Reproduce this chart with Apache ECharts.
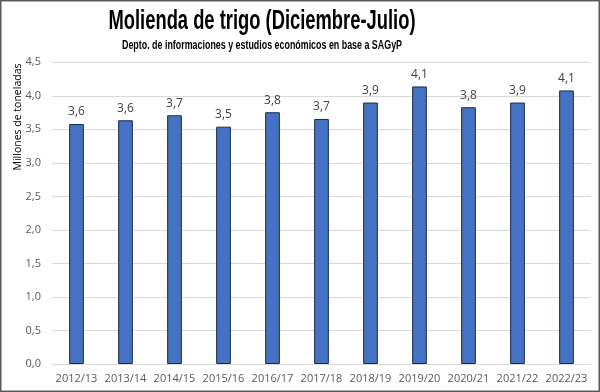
<!DOCTYPE html>
<html><head><meta charset="utf-8">
<script src="https://cdn.jsdelivr.net/npm/echarts@6/dist/echarts.min.js"></script>
<style>html,body{margin:0;padding:0;background:#fff}#c{width:600px;height:392px}</style>
</head><body><div id="c"></div>
<script>
const categories = ['2012/13','2013/14','2014/15','2015/16','2016/17','2017/18','2018/19','2019/20','2020/21','2021/22','2022/23'];
const values = [3.58,3.635,3.71,3.54,3.755,3.655,3.90,4.14,3.83,3.90,4.08];
const titleText = 'Molienda de trigo (Diciembre-Julio)';
const subtitleText = 'Depto. de informaciones y estudios económicos en base a SAGyP';
const yAxisName = 'Millones de toneladas';

const fmt = v => v.toFixed(1).replace('.', ',');
const ctx = document.createElement('canvas').getContext('2d');
function fitScale(text, font, target) {
  ctx.font = font;
  return target / ctx.measureText(text).width;
}
const titleFont = 'bold 27px "Liberation Sans"';
const subFont = 'bold 12.5px "Liberation Sans"';
const titleScale = fitScale(titleText, titleFont, 307);
const subScale = fitScale(subtitleText, subFont, 280);

const chart = echarts.init(document.getElementById('c'));
chart.setOption({
  animation: false,
  grid: {left: 52, right: 9, top: 62.3, bottom: 28, containLabel: false},
  xAxis: {
    type: 'category', data: categories,
    axisLine: {lineStyle: {color: '#d9d9d9'}},
    axisTick: {show: false},
    axisLabel: {color: '#595959', fontSize: 11, fontFamily: '"Open Sans",sans-serif', margin: 9, interval: 0}
  },
  yAxis: {
    type: 'value', min: 0, max: 4.5, interval: 0.5,
    axisLine: {show: false}, axisTick: {show: false},
    splitLine: {lineStyle: {color: '#d9d9d9'}},
    axisLabel: {color: '#595959', fontSize: 11, fontFamily: '"Open Sans",sans-serif', margin: 11, formatter: v => fmt(v)}
  },
  graphic: [{
    type: 'rect', shape: {x: 0.75, y: 0.75, width: 598.5, height: 390.5},
    style: {fill: 'none', stroke: '#595959', lineWidth: 1.5}, silent: true
  },{
    type: 'text', x: 262, y: 22, scaleX: titleScale,
    style: {text: titleText, fill: '#000', font: titleFont, align: 'center', verticalAlign: 'middle'}
  },{
    type: 'text', x: 262, y: 46, scaleX: subScale,
    style: {text: subtitleText, fill: '#000', font: subFont, align: 'center', verticalAlign: 'middle'}
  },{
    type: 'text', x: 18, y: 117, rotation: Math.PI/2,
    style: {text: yAxisName, fill: '#000', fontSize: 10.5, fontFamily: '"Open Sans",sans-serif', align: 'center', verticalAlign: 'middle'}
  }],
  series: [{
    type: 'bar', data: values, barWidth: '30%',
    itemStyle: {color: '#4472c4', borderColor: '#1c2a48', borderWidth: 1},
    label: {show: true, position: 'top', distance: 6, color: '#404040', fontSize: 12, fontFamily: '"Open Sans",sans-serif', formatter: p => fmt(p.value)}
  }]
});
</script></body></html>
